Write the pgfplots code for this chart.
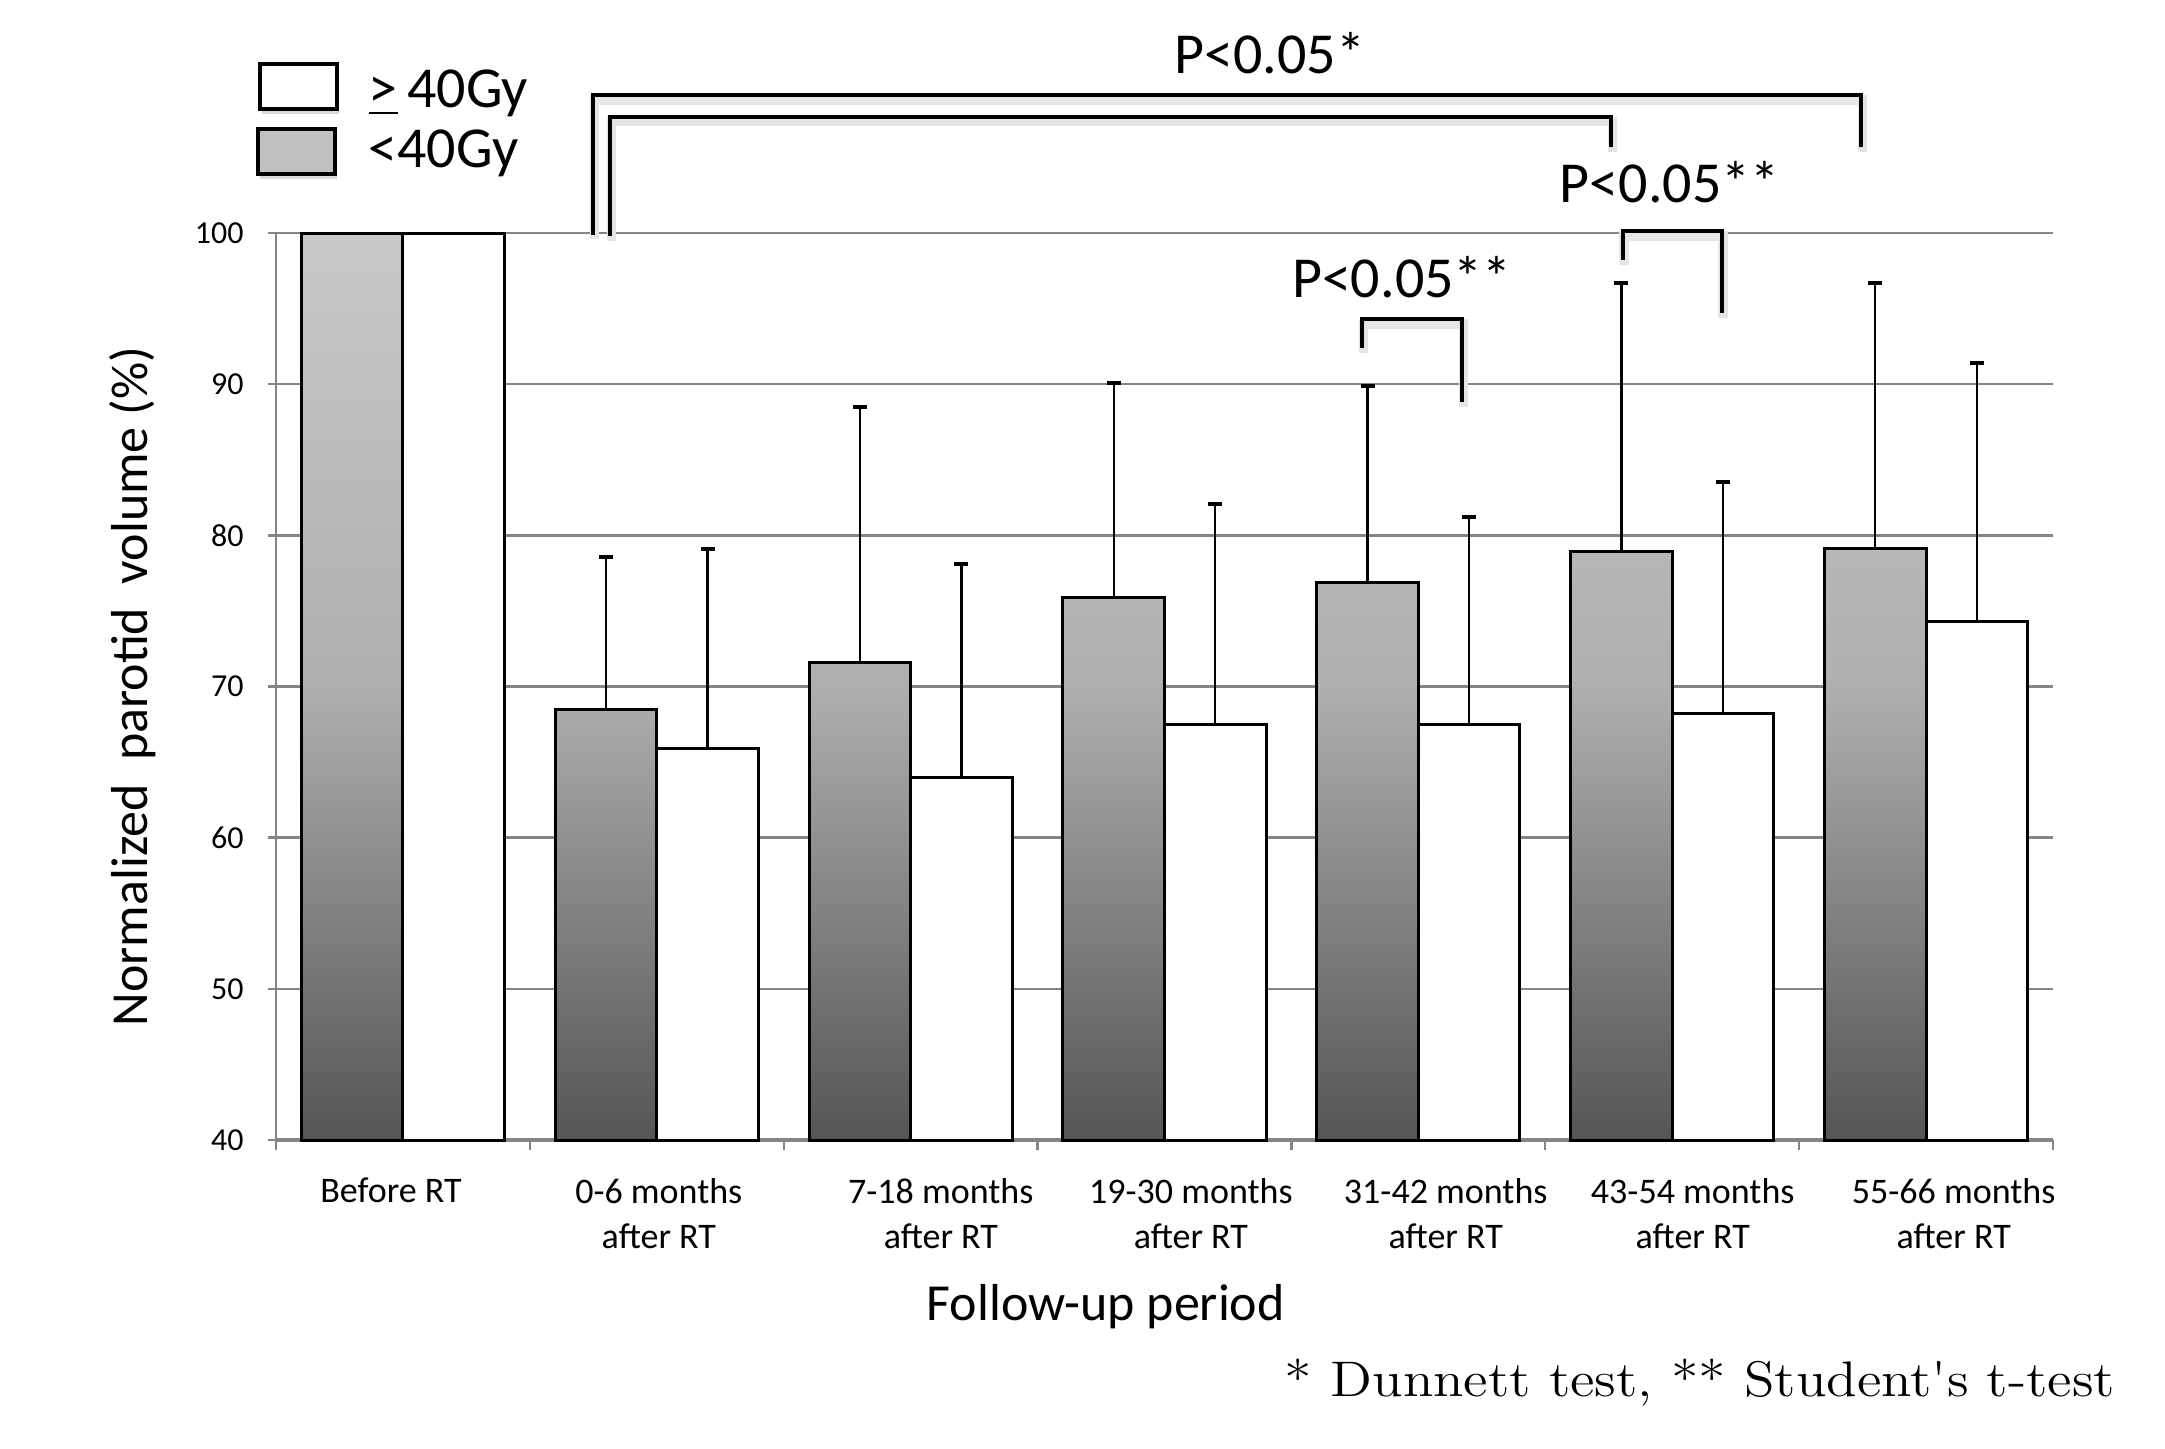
\documentclass[border=0pt]{standalone}
\usepackage{fontspec}
\setmainfont{Carlito}
\newfontfamily\lmr{Latin Modern Roman}
\usepackage{graphicx}
\usepackage{pgfplots}
\pgfplotsset{compat=1.18}
\usepackage{pgfplotstable}
\usetikzlibrary{shadows}

\definecolor{gridgray}{HTML}{858585}
\definecolor{bartop}{HTML}{C8C8C8}
\definecolor{barmid}{HTML}{AFAFAF}
\definecolor{barbot}{HTML}{555555}
\definecolor{legray}{HTML}{C0C0C0}

% x: category index; g: <40Gy mean, ge: its SD (upward); w: >=40Gy mean, we: its SD
\pgfplotstableread{
x g    ge   w    we
0 100  0    100  0
1 68.5 10.1 65.9 13.2
2 71.6 16.9 64.0 14.1
3 75.9 14.2 67.5 14.6
4 76.9 13.0 67.5 13.7
5 78.9 17.8 68.2 15.3
6 79.1 17.6 74.3 17.1
}\datatable

\tikzset{
  bracket/.style={line width=1pt, black,
    preaction={draw=black!10, line width=2.4pt, transform canvas={shift={(0.4pt,-1.2pt)}}}},
}

\begin{document}
\begin{tikzpicture}
\useasboundingbox (-69pt,-77pt) rectangle (472.25pt,285pt);
\begin{axis}[
  at={(0,0)}, anchor=south west,
  scale only axis, width=444.25pt, height=226.75pt,
  xmin=-0.5, xmax=6.5, ymin=0, ymax=60,
  axis x line*=bottom, axis y line*=left,
  x axis line style={gridgray, line width=1pt},
  y axis line style={gridgray, line width=0.6pt},
  tick align=outside,
  major tick length=2pt, minor tick length=2.5pt,
  xtick={-0.047,1.008,2.119,3.104,4.108,5.081,6.109},
  xticklabels={Before RT,{0-6 months\\after RT},{7-18 months\\after RT},{19-30 months\\after RT},{31-42 months\\after RT},{43-54 months\\after RT},{55-66 months\\after RT}},
  major x tick style={draw=none},
  minor xtick={-0.5,0.5,1.5,2.5,3.5,4.5,5.5,6.5},
  minor x tick style={gridgray, line width=0.6pt},
  ytick={0,10,20,30,40,50,60},
  yticklabels={40,50,60,70,80,90,100},
  major y tick style={gridgray, line width=0.6pt},
  ymajorgrids,
  major grid style={gridgray, line width=0.6pt},
  yticklabel style={font=\fontsize{8}{9.6}\selectfont, xshift=-2.6pt},
  xticklabel style={font=\fontsize{9}{11.25}\selectfont, align=center, anchor=north, yshift=-4pt},
  xlabel={Follow-up period},
  xlabel style={at={(axis description cs:0.467,0)}, anchor=center, yshift=-41.75pt, font=\fontsize{13}{15}\selectfont},
  ylabel={Normalized\ \ parotid\ \ volume (\%)},
  ylabel style={at={(axis description cs:-0.0805,0.5)}, anchor=center, font=\fontsize{13}{15}\selectfont},
  clip=false,
  y filter/.expression={y-40},
]
% bars
\addplot[ybar, bar width=0.4, bar shift=-0.2, draw=black, line width=0.75pt,
  top color=bartop, bottom color=barbot, middle color=barmid]
  table[x=x, y=g]{\datatable};
\addplot[ybar, bar width=0.4, bar shift=0.2, draw=black, line width=0.75pt, fill=white]
  table[x=x, y=w]{\datatable};
% error bars (upward SD)
\addplot[draw=none, mark=none, forget plot,
  error bars/.cd, y dir=plus, y explicit,
  error bar style={draw=black, solid, line width=0.55pt},
  error mark options={draw=black, solid, line width=1pt, mark size=1.75pt, rotate=90}]
  table[x expr=\thisrow{x}-0.2, y=g, y error=ge, skip coords between index={0}{1}]{\datatable};
\addplot[draw=none, mark=none, forget plot,
  error bars/.cd, y dir=plus, y explicit,
  error bar style={draw=black, solid, line width=0.55pt},
  error mark options={draw=black, solid, line width=1pt, mark size=1.75pt, rotate=90}]
  table[x expr=\thisrow{x}+0.2, y=w, y error=we, skip coords between index={0}{1}]{\datatable};

% significance brackets
\draw[bracket] (axis cs:0.748,59.9) -- (axis cs:0.748,69.1) -- (axis cs:5.743,69.1) -- (axis cs:5.743,65.7);
\draw[bracket] (axis cs:0.815,59.8) -- (axis cs:0.815,67.7) -- (axis cs:4.758,67.7) -- (axis cs:4.758,65.7);
\node[anchor=base, font=\fontsize{14.5}{17}\selectfont, inner sep=0pt] at (axis cs:3.415,70.57) {P<0.05*};
\draw[bracket] (axis cs:4.805,58.2) -- (axis cs:4.805,60.1) -- (axis cs:5.195,60.1) -- (axis cs:5.195,54.7);
\node[anchor=base, font=\fontsize{14.5}{17}\selectfont, inner sep=0pt] at (axis cs:4.99,62.04) {P<0.05**};
\draw[bracket] (axis cs:3.777,52.4) -- (axis cs:3.777,54.3) -- (axis cs:4.171,54.3) -- (axis cs:4.171,48.8);
\node[anchor=base, font=\fontsize{14.5}{17}\selectfont, inner sep=0pt] at (axis cs:3.935,55.75) {P<0.05**};

% legend
\draw[black, line width=1pt, fill=white, drop shadow={opacity=0.3, shadow xshift=0.6pt, shadow yshift=-1.3pt}]
  (axis cs:-0.563,71.2) rectangle (axis cs:-0.26,68.2);
\draw[black, line width=1pt, fill=legray, drop shadow={opacity=0.3, shadow xshift=0.6pt, shadow yshift=-1.3pt}]
  (axis cs:-0.571,66.9) rectangle (axis cs:-0.268,63.9);
\node[anchor=base west, font=\fontsize{14.5}{17}\selectfont, inner sep=0pt] at (axis cs:-0.138,68.3) {\underline{>}\,40Gy};
\node[anchor=base west, font=\fontsize{14.5}{17}\selectfont, inner sep=0pt] at (axis cs:-0.138,64.35) {<40Gy};
\end{axis}
\node[anchor=base east, inner sep=0pt, font=\lmr\fontsize{12.5}{15}\selectfont] at (460pt,-64pt) {\scalebox{1.12}[1]{* Dunnett test, ** Student's t-test}};
\end{tikzpicture}
\end{document}
